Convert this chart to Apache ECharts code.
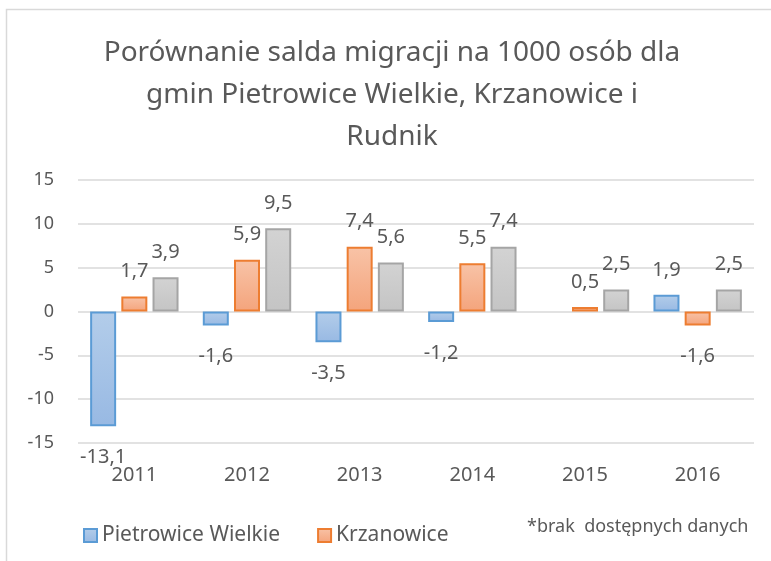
<!DOCTYPE html>
<html>
<head>
<meta charset="utf-8">
<script src="https://cdn.jsdelivr.net/npm/echarts@6/dist/echarts.min.js"></script>
<style>
  html, body { margin: 0; padding: 0; background: #fff; }
  #chart { width: 771px; height: 561px; }
</style>
</head>
<body>
<div id="chart"></div>
<script>
// dane z wykresu
var years = ["2011", "2012", "2013", "2014", "2015", "2016"];
var pietrowice = [-13.1, -1.6, -3.5, -1.2, null, 1.9];
var krzanowice = [1.7, 5.9, 7.4, 5.5, 0.5, -1.6];
var rudnik = [3.9, 9.5, 5.6, 7.4, 2.5, 2.5];
var yTicks = { min: -15, max: 15, step: 5 };

var fontFamily = "'Noto Sans', 'Open Sans', sans-serif";
var textColor = "#595959";

function grad(top, bottom) {
  return new echarts.graphic.LinearGradient(0, 0, 0, 1, [
    { offset: 0, color: top },
    { offset: 1, color: bottom }
  ]);
}

var styles = {
  blue: { color: grad("#b3cdea", "#98b9e3"), borderColor: "#5b9bd5", borderWidth: 2 },
  orange: { color: grad("#f8c3a7", "#f4a47c"), borderColor: "#ed7d31", borderWidth: 2 },
  gray: { color: grad("#d3d3d3", "#c4c4c4"), borderColor: "#a5a5a5", borderWidth: 2 }
};

function makeSeries(name, values, style) {
  return {
    name: name,
    type: "bar",
    barWidth: 26,
    barGap: "20%",
    itemStyle: style,
    label: {
      show: true,
      position: "outside",
      distance: 15,
      fontFamily: fontFamily,
      fontSize: 20,
      color: textColor,
      formatter: function (p) {
        return String(p.value).replace(".", ",");
      }
    },
    // etykiety pod słupkami ujemnymi stoją nieco dalej
    data: values.map(function (v) {
      return v != null && v < 0 ? { value: v, label: { distance: 21 } } : v;
    })
  };
}

var chart = echarts.init(document.getElementById("chart"));
chart.setOption({
  animation: false,
  title: [
    {
      text: "Porównanie salda migracji na 1000 osób dla\ngmin Pietrowice Wielkie, Krzanowice i\nRudnik",
      left: 387,
      top: 27,
      textAlign: "center",
      textStyle: {
        fontFamily: fontFamily,
        fontSize: 28,
        fontWeight: "normal",
        color: textColor,
        lineHeight: 42
      }
    },
    {
      text: "*brak  dostępnych danych",
      left: 522,
      top: 513,
      textStyle: {
        fontFamily: fontFamily,
        fontSize: 18,
        fontWeight: "normal",
        color: textColor
      }
    }
  ],
  graphic: [
    {
      type: "polyline",
      shape: { points: [[6.5, 561], [6.5, 9.5], [771, 9.5]] },
      style: { stroke: "#d9d9d9", lineWidth: 1.5, fill: null }
    }
  ],
  legend: {
    left: 78,
    top: 520,
    itemWidth: 13,
    itemHeight: 13,
    itemGap: 37,
    icon: "rect",
    textStyle: { fontFamily: fontFamily, fontSize: 21, color: textColor },
    data: [
      { name: "Pietrowice Wielkie", itemStyle: styles.blue },
      { name: "Krzanowice", itemStyle: styles.orange }
    ]
  },
  grid: { left: 78, right: 17, top: 180, bottom: 118 },
  xAxis: {
    type: "category",
    data: years,
    position: "bottom",
    axisLine: { show: false, onZero: false },
    axisTick: { show: false },
    axisLabel: {
      margin: 22,
      fontFamily: fontFamily,
      fontSize: 20,
      color: textColor
    }
  },
  yAxis: {
    type: "value",
    min: yTicks.min,
    max: yTicks.max,
    interval: yTicks.step,
    axisLine: { show: false },
    axisTick: { show: false },
    splitLine: { lineStyle: { color: "#d9d9d9", width: 1.5 } },
    axisLabel: {
      margin: 24,
      fontFamily: fontFamily,
      fontSize: 18,
      color: textColor
    }
  },
  series: [
    makeSeries("Pietrowice Wielkie", pietrowice, styles.blue),
    makeSeries("Krzanowice", krzanowice, styles.orange),
    makeSeries("Rudnik", rudnik, styles.gray)
  ]
});
</script>
</body>
</html>
